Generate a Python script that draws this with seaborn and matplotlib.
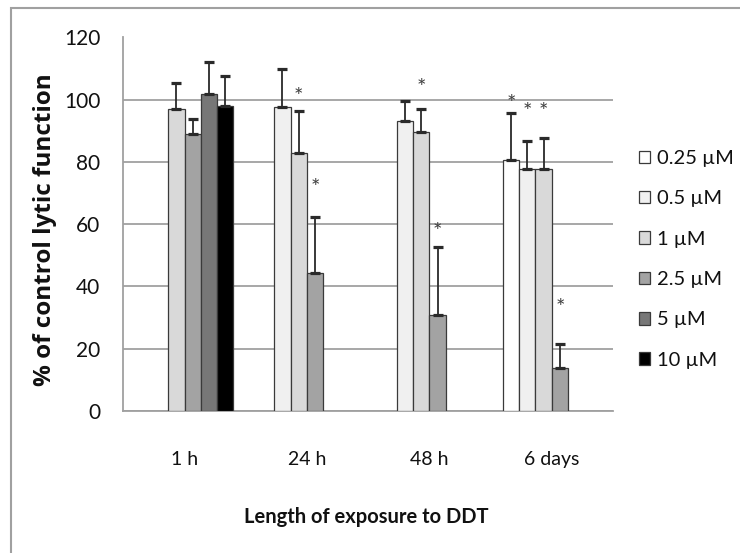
import numpy as np
import pandas as pd
import matplotlib
matplotlib.use("Agg")
import matplotlib.pyplot as plt
from matplotlib import font_manager
from matplotlib.patches import Patch, Rectangle
import seaborn as sns

# ---------------- data ----------------
times = ["1 h", "24 h", "48 h", "6 days"]
concs = ["0.25 \u00b5M", "0.5 \u00b5M", "1 \u00b5M", "2.5 \u00b5M", "5 \u00b5M", "10 \u00b5M"]

mean_025 = [np.nan, np.nan, np.nan, 80.6]
mean_05 = [np.nan, 97.5, 93.1, 77.7]
mean_1 = [97.1, 82.8, 89.5, 77.7]
mean_25 = [89.1, 44.4, 30.8, 13.7]
mean_5 = [101.8, np.nan, np.nan, np.nan]
mean_10 = [97.9, np.nan, np.nan, np.nan]

err_025 = [np.nan, np.nan, np.nan, 15.2]
err_05 = [np.nan, 12.5, 6.6, 9.0]
err_1 = [8.3, 13.7, 7.5, 10.1]
err_25 = [4.6, 18.0, 21.9, 7.9]
err_5 = [10.2, np.nan, np.nan, np.nan]
err_10 = [9.6, np.nan, np.nan, np.nan]

# significance stars: (time, concentration, y-position)
star_times = ["24 h", "24 h", "48 h", "48 h", "6 days", "6 days", "6 days", "6 days"]
star_concs = ["1 \u00b5M", "2.5 \u00b5M", "1 \u00b5M", "2.5 \u00b5M",
              "0.25 \u00b5M", "0.5 \u00b5M", "1 \u00b5M", "2.5 \u00b5M"]
star_y = [101.0, 71.5, 103.7, 57.4, 98.5, 96.0, 96.0, 33.0]

y_ticks = [0, 20, 40, 60, 80, 100, 120]
x_label = "Length of exposure to DDT"
y_label = "% of control lytic function"

colors = ["#FFFFFF", "#F0F0F0", "#D9D9D9", "#A3A3A3", "#777777", "#000000"]

means = [mean_025, mean_05, mean_1, mean_25, mean_5, mean_10]
errs = [err_025, err_05, err_1, err_25, err_5, err_10]
rows = []
for c, m, e in zip(concs, means, errs):
    for t, mv, ev in zip(times, m, e):
        if not np.isnan(mv):
            rows.append({"time": t, "conc": c, "value": mv, "err": ev})
df = pd.DataFrame(rows)

# ---------------- fonts ----------------
avail = {f.name for f in font_manager.fontManager.ttflist}
main_font = "Lato" if "Lato" in avail else "Liberation Sans"
wide_bold = "Open Sans" if "Open Sans" in avail else "DejaVu Sans"

sns.set_theme(style="white")
plt.rcParams["font.family"] = [main_font, "DejaVu Sans"]

GRID = "#A0A0A0"
DARK = "#2a2a2a"
TXT = "#111111"

fig = plt.figure(figsize=(7.40, 5.53), dpi=100)
ax = fig.add_axes([0.1666, 0.2568, 0.6618, 0.6756])

pal = dict(zip(concs, colors))
sns.barplot(data=df, x="time", y="value", hue="conc", order=times, hue_order=concs,
            palette=pal, errorbar=None, legend=False, width=0.8, dodge=True,
            edgecolor="#3a3a3a", linewidth=0.9, saturation=1, ax=ax, zorder=3)

present = [c for c in concs if c in set(df["conc"])]
bar_pos = {}
for cont, lev in zip(ax.containers, present):
    for bar in cont:
        xc = bar.get_x() + bar.get_width() / 2
        idx = int(round(xc))
        bar_pos[(times[idx], lev)] = xc

for _, r in df.iterrows():
    xc = bar_pos[(r["time"], r["conc"])]
    ax.errorbar([xc], [r["value"]], yerr=[[0], [r["err"]]], fmt="none",
                ecolor=DARK, elinewidth=1.3, capsize=3.5, capthick=2.3, zorder=4)

for t, c, y in zip(star_times, star_concs, star_y):
    ax.text(bar_pos[(t, c)], y, "*", ha="center", va="center", fontsize=16,
            color="#404040", zorder=5)

ax.set_ylim(0, 120)
ax.set_xlim(-0.5, len(times) - 0.5)
ax.set_yticks(y_ticks)
ax.set_yticklabels([str(v) for v in y_ticks], fontsize=15)
ax.yaxis.grid(True, color=GRID, linewidth=1.3, zorder=0)
ax.xaxis.grid(False)
ax.set_axisbelow(True)
gl = ax.yaxis.get_gridlines()
gl[-1].set_visible(False)

ax.set_xticks(np.arange(-0.5, len(times)), labels=[""] * (len(times) + 1))
ax.set_xticks(np.arange(len(times)), labels=times, minor=True)
ax.tick_params(axis="x", which="major", length=5.5, width=1.2, color=GRID, direction="out")
ax.tick_params(axis="x", which="minor", length=0, pad=29, labelsize=14, labelcolor=TXT)
ax.tick_params(axis="y", which="major", length=5.5, width=1.3, color=GRID, direction="out",
               pad=11, labelcolor=TXT)
ytl = ax.yaxis.get_major_ticks()
ytl[-1].tick1line.set_visible(False)

ax.set_xlabel("")
ax.set_ylabel("")
for s in ["top", "right"]:
    ax.spines[s].set_visible(False)
for s in ["left", "bottom"]:
    ax.spines[s].set_color(GRID)
    ax.spines[s].set_linewidth(1.3)

fig.text(0.4955, 1 - 523 / 553, x_label, ha="center", va="baseline", fontsize=14.5,
         fontweight="bold", family=[main_font, "DejaVu Sans"], color=TXT)
fig.text(0.061, 1 - 230 / 553, y_label, ha="center", va="center", rotation=90,
         fontsize=17.5, fontweight="bold", family=[wide_bold, "DejaVu Sans"], color=TXT)

handles = [Patch(facecolor=c, edgecolor="#3a3a3a", linewidth=0.9) for c in colors]
fig.legend(handles, concs, loc="upper left", bbox_to_anchor=(639 / 740, 1 - 150 / 553),
           frameon=False, fontsize=14.5, handlelength=0.57, handleheight=0.57,
           handletextpad=0.3, labelspacing=1.16, borderpad=0, borderaxespad=0,
           labelcolor=TXT)

# chart-area border (extends beyond right/bottom edges)
fig.patches.append(Rectangle((11 / 740, -0.1), 1.2, 1 - 8 / 553 + 0.1,
                             transform=fig.transFigure, fill=False,
                             edgecolor=GRID, linewidth=1.5, zorder=0))

fig.savefig("out.png", dpi=100, facecolor="white")
